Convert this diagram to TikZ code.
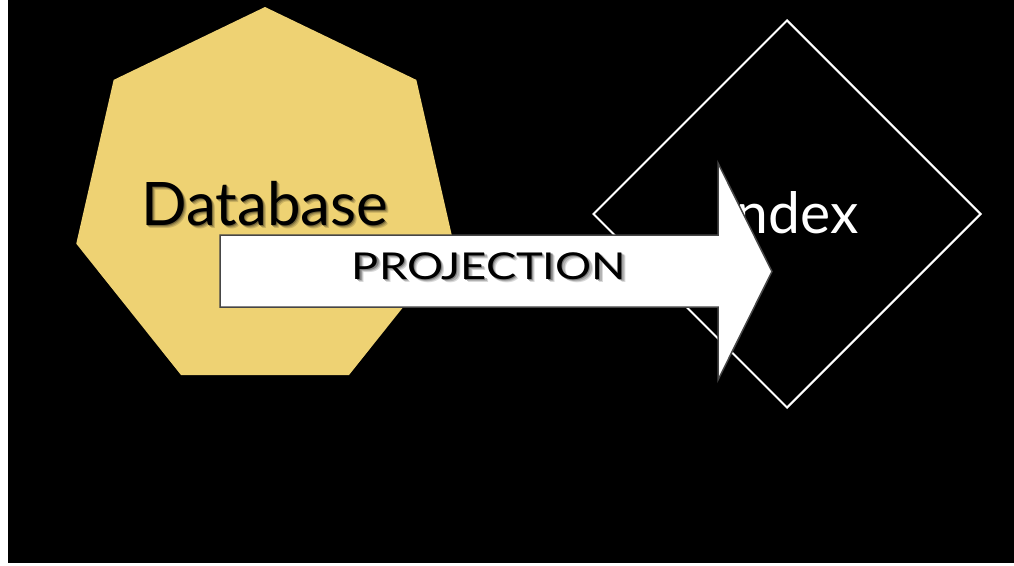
\documentclass[tikz,border=0pt]{standalone}
\usepackage{fontspec}
\setmainfont{Lato}
\usetikzlibrary{shapes.geometric}
\definecolor{dbyellow}{RGB}{238,210,115}
\definecolor{arrowedge}{RGB}{70,70,70}
% one soft shadow layer: background colour #1, offset #2, darkness #3, text #4
\newcommand\shadowlayer[4]{\makebox[0pt][l]{\hspace{#2}\raisebox{-#2}{\textcolor{black!#3!#1}{#4}}}}
% text with a soft shadow towards the lower right, set on background colour #1
\newcommand\shadowed[2]{%
  \shadowlayer{#1}{3pt}{15}{#2}%
  \shadowlayer{#1}{2pt}{30}{#2}%
  \shadowlayer{#1}{1pt}{50}{#2}%
  \textcolor{black}{#2}}
\begin{document}
\begin{tikzpicture}[x=1pt,y=-1pt,
  heptagon/.style={regular polygon, regular polygon sides=7, minimum size=387.2pt,
                   inner sep=0pt, fill=dbyellow, draw=none},
  indexbox/.style={diamond, aspect=1, minimum size=388pt, inner sep=0pt,
                   draw=white, line width=2pt},
  bigtext/.style={anchor=base, inner sep=0pt, font=\fontsize{60}{60}\selectfont},
  arrowlabel/.style={anchor=base, inner sep=0pt, font=\fontsize{37}{37}\selectfont},
  arrowbody/.style={fill=white, draw=arrowedge, line width=1.5pt, line join=miter}
]
\useasboundingbox (0,0) rectangle (1014,565);
\fill[white] (0,0) rectangle (1014,565);
\fill[black] (8,0) rectangle (1014,563);

% database heptagon and its label
\node[heptagon] (db) at (265,200.6) {};
\node[bigtext] (dblabel) at (265,225) {\shadowed{dbyellow}{Database}};

% index diamond and its label
\node[indexbox] (idx) at (787,214) {};
\node[bigtext, text=white, font=\fontsize{57}{57}\selectfont] (idxlabel) at (790,233) {Index};

% projection arrow
\coordinate (tailtop) at (220,235);
\coordinate (tailbot) at (220,307);
\coordinate (tip) at (772,271.5);
\draw[arrowbody] (tailtop) -- (718,235) -- (718,163) -- (tip) -- (718,380)
  -- (718,307) -- (tailbot) -- cycle;
\node[arrowlabel] (prlabel) at (489,279) {\scalebox{1.22}[1]{\shadowed{white}{PROJECTION}}};
\end{tikzpicture}
\end{document}
